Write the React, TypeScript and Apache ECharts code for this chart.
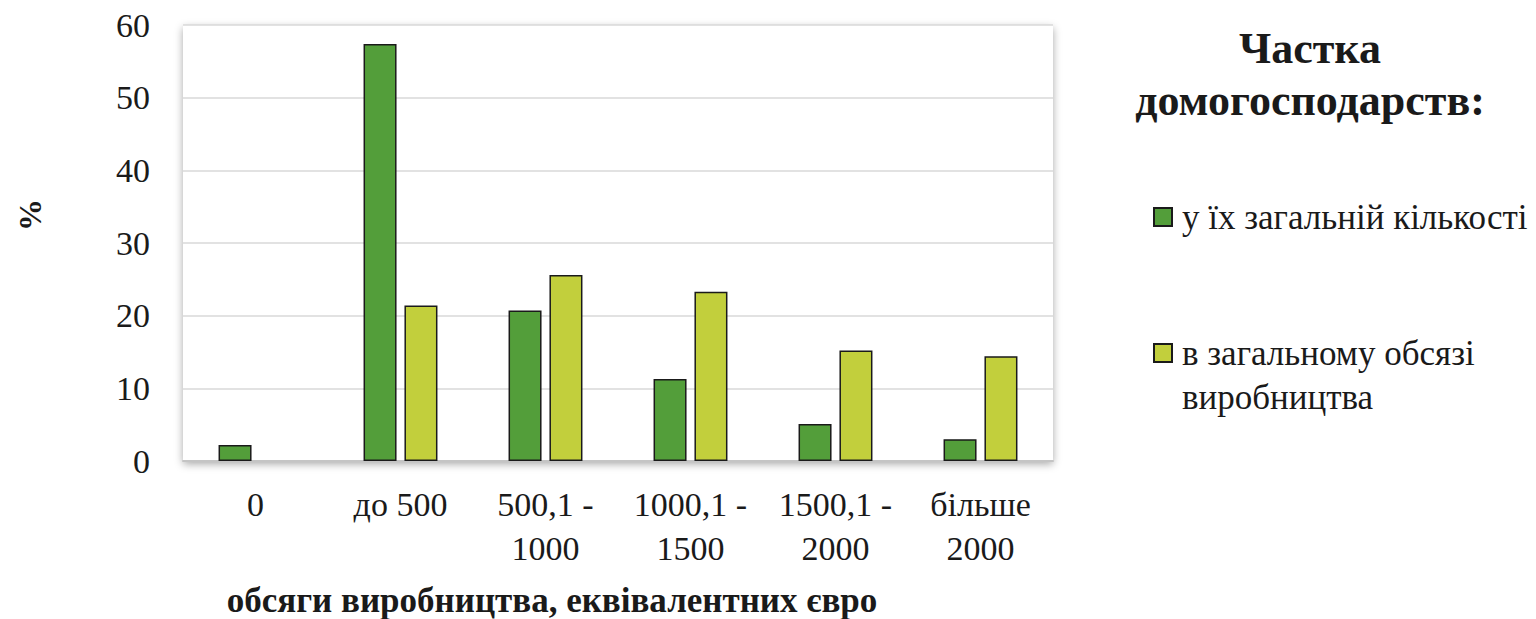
import React, { useEffect, useRef } from "react";
import * as echarts from "echarts";

const categories = ["0", "до 500", "500,1 -\n1000", "1000,1 -\n1500", "1500,1 -\n2000", "більше\n2000"];
const seriesNames = ["у їх загальній кількості", "в загальному обсязі виробництва"];
const shareOfCount = [2.2, 57.4, 20.7, 11.3, 5.1, 3.0];
const shareOfVolume = [null, 21.4, 25.6, 23.3, 15.2, 14.4];
const yMin = 0;
const yMax = 60;
const yStep = 10;
const legendTitle = "Частка\nдомогосподарств:";
const xAxisTitle = "обсяги виробництва, еквівалентних євро";
const yAxisTitle = "%";

const FONT = "'Liberation Serif', 'DejaVu Serif', serif";
const GREEN = "#539E3A";
const YELLOW = "#C2CF3C";

export default function App() {
  const ref = useRef<HTMLDivElement>(null);
  useEffect(() => {
    if (!ref.current) return;
    const chart = echarts.init(ref.current, null, { renderer: "svg" });
    chart.setOption({
      animation: false,
      backgroundColor: "#ffffff",
      textStyle: { fontFamily: FONT },
      grid: {
        left: 183,
        right: 483,
        top: 25,
        bottom: 158,
        outerBoundsMode: "none",
        containLabel: false,
        show: true,
        backgroundColor: "#ffffff",
        borderWidth: 0,
        shadowColor: "rgba(0,0,0,0.35)",
        shadowBlur: 8,
        shadowOffsetX: 0,
        shadowOffsetY: 3,
      },
      xAxis: {
        type: "category",
        data: categories,
        axisTick: { show: false },
        axisLine: { show: true, lineStyle: { color: "#c4c4c4", width: 2 } },
        axisLabel: {
          interval: 0,
          margin: 21,
          color: "#1a1a1a",
          fontFamily: FONT,
          fontSize: 34,
          lineHeight: 44,
        },
        name: xAxisTitle,
        nameLocation: "middle",
        nameGap: 124,
        nameTextStyle: {
          fontFamily: FONT,
          fontWeight: "bold",
          fontSize: 35,
          lineHeight: 30,
          color: "#1a1a1a",
          padding: [0, 132, 0, 0],
        },
      },
      yAxis: {
        type: "value",
        min: yMin,
        max: yMax,
        interval: yStep,
        axisLine: { show: false },
        axisTick: { show: false },
        splitLine: { show: true, lineStyle: { color: "#d9d9d9", width: 1.5 } },
        axisLabel: {
          margin: 33,
          color: "#1a1a1a",
          fontFamily: FONT,
          fontSize: 34,
        },
      },
      legend: [
        {
          data: [seriesNames[0]],
          orient: "vertical",
          left: 1153,
          top: 195,
          padding: 0,
          icon: "rect",
          itemWidth: 18,
          itemHeight: 18,
          selectedMode: false,
          textStyle: {
            fontFamily: FONT,
            fontSize: 35,
            lineHeight: 44,
            color: "#1a1a1a",
            padding: [0, 0, 0, 5],
          },
        },
        {
          data: [seriesNames[1]],
          orient: "vertical",
          left: 1153,
          top: 287,
          padding: 0,
          icon: "rect",
          itemWidth: 18,
          itemHeight: 18,
          selectedMode: false,
          formatter: () => " \nв загальному обсязі\nвиробництва",
          textStyle: {
            fontFamily: FONT,
            fontSize: 35,
            lineHeight: 44,
            color: "#1a1a1a",
            padding: [0, 0, 0, 5],
          },
        },
      ],
      graphic: [
        {
          type: "text",
          x: 1310,
          y: 22,
          style: {
            text: legendTitle,
            fontFamily: FONT,
            fontWeight: "bold",
            fontSize: 44,
            lineHeight: 52,
            fill: "#1a1a1a",
            textAlign: "center",
            textVerticalAlign: "top",
          },
        },
        {
          type: "text",
          x: 30,
          y: 215,
          rotation: Math.PI / 2,
          style: {
            text: yAxisTitle,
            fontFamily: FONT,
            fontWeight: "bold",
            fontSize: 32,
            fill: "#1a1a1a",
            textAlign: "center",
            textVerticalAlign: "middle",
          },
        },
      ],
      series: [
        {
          name: seriesNames[0],
          type: "bar",
          data: shareOfCount,
          barWidth: 33,
          barGap: "24%",
          itemStyle: { color: GREEN, borderColor: "#1a1a1a", borderWidth: 1.5 },
        },
        {
          name: seriesNames[1],
          type: "bar",
          data: shareOfVolume,
          barWidth: 33,
          barGap: "24%",
          itemStyle: { color: YELLOW, borderColor: "#1a1a1a", borderWidth: 1.5 },
        },
      ],
    });
    return () => chart.dispose();
  }, []);
  return (
    <div
      ref={ref}
      style={{ position: "fixed", left: 0, top: 0, width: 1536, height: 619 }}
    />
  );
}
